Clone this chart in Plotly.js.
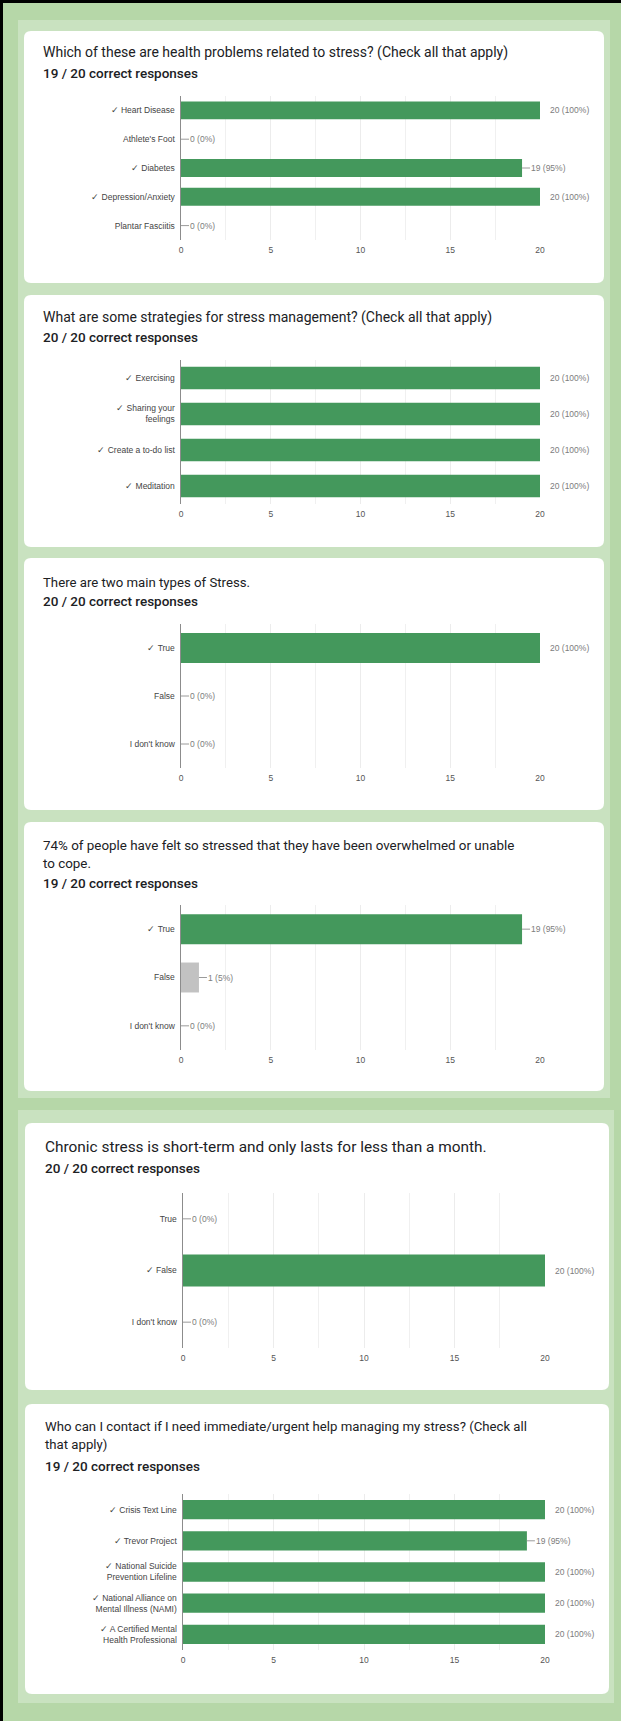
<!DOCTYPE html>
<html>
<head>
<meta charset="utf-8">
<script src="https://cdn.plot.ly/plotly-3.0.1.min.js"></script>
<style>
  html, body { margin: 0; padding: 0; background: #b6d7a8; }
  #chart { width: 621px; height: 1721px; }
</style>
</head>
<body>
<div id="chart"></div>
<script>
// ---------------- DATA ----------------
const q1Title = ["Which of these are health problems related to stress? (Check all that apply)"];
const q1Score = "19 / 20 correct responses";
const q1Cats = ["✓ Heart Disease", "Athlete's Foot", "✓ Diabetes", "✓ Depression/Anxiety", "Plantar Fasciitis"];
const q1Vals = [20, 0, 19, 20, 0];
const q1Pct = [100, 0, 95, 100, 0];
const q1Correct = [true, false, true, true, false];

const q2Title = ["What are some strategies for stress management? (Check all that apply)"];
const q2Score = "20 / 20 correct responses";
const q2Cats = ["✓ Exercising", "✓ Sharing your<br>feelings", "✓ Create a to-do list", "✓ Meditation"];
const q2Vals = [20, 20, 20, 20];
const q2Pct = [100, 100, 100, 100];
const q2Correct = [true, true, true, true];

const q3Title = ["There are two main types of Stress."];
const q3Score = "20 / 20 correct responses";
const q3Cats = ["✓ True", "False", "I don't know"];
const q3Vals = [20, 0, 0];
const q3Pct = [100, 0, 0];
const q3Correct = [true, false, false];

const q4Title = ["74% of people have felt so stressed that they have been overwhelmed or unable", "to cope."];
const q4Score = "19 / 20 correct responses";
const q4Cats = ["✓ True", "False", "I don't know"];
const q4Vals = [19, 1, 0];
const q4Pct = [95, 5, 0];
const q4Correct = [true, false, false];

const q5Title = ["Chronic stress is short-term and only lasts for less than a month."];
const q5Score = "20 / 20 correct responses";
const q5Cats = ["True", "✓ False", "I don't know"];
const q5Vals = [0, 20, 0];
const q5Pct = [0, 100, 0];
const q5Correct = [false, true, false];

const q6Title = ["Who can I contact if I need immediate/urgent help managing my stress? (Check all", "that apply)"];
const q6Score = "19 / 20 correct responses";
const q6Cats = ["✓ Crisis Text Line", "✓ Trevor Project", "✓ National Suicide<br>Prevention Lifeline",
                "✓ National Alliance on<br>Mental Illness (NAMI)", "✓ A Certified Mental<br>Health Professional"];
const q6Vals = [20, 19, 20, 20, 20];
const q6Pct = [100, 95, 100, 100, 100];
const q6Correct = [true, true, true, true, true];

const respondents = 20;
const xTicks = [0, 5, 10, 15, 20];

// ---------------- LAYOUT GEOMETRY (pixels) ----------------
const W = 621, H = 1721;
const px = p => p / W;
const py = p => 1 - p / H;

const questions = [
  {title: q1Title, score: q1Score, cats: q1Cats, vals: q1Vals, pct: q1Pct, correct: q1Correct},
  {title: q2Title, score: q2Score, cats: q2Cats, vals: q2Vals, pct: q2Pct, correct: q2Correct},
  {title: q3Title, score: q3Score, cats: q3Cats, vals: q3Vals, pct: q3Pct, correct: q3Correct},
  {title: q4Title, score: q4Score, cats: q4Cats, vals: q4Vals, pct: q4Pct, correct: q4Correct},
  {title: q5Title, score: q5Score, cats: q5Cats, vals: q5Vals, pct: q5Pct, correct: q5Correct},
  {title: q6Title, score: q6Score, cats: q6Cats, vals: q6Vals, pct: q6Pct, correct: q6Correct}
];

// card boxes, plot areas, text line centres, title font size
const geo = [
  {card: [24, 604, 31, 283],    plot: [181, 540, 96, 240],    textX: 41, lines: [53],         scoreY: 73,   tsize: 14},
  {card: [24, 604, 295, 547],   plot: [181, 540, 360, 504],   textX: 41, lines: [317],        scoreY: 337,  tsize: 14},
  {card: [24, 604, 558, 810],   plot: [181, 540, 624, 768],   textX: 41, lines: [582],        scoreY: 601,  tsize: 13.2},
  {card: [24, 604, 822, 1091],  plot: [181, 540, 905, 1050],  textX: 41, lines: [845, 863],   scoreY: 883,  tsize: 13.4},
  {card: [25, 609, 1123, 1390], plot: [183, 545, 1193, 1348], textX: 43, lines: [1147],       scoreY: 1168, tsize: 15.4},
  {card: [25, 609, 1404, 1694], plot: [183, 545, 1494, 1650], textX: 43, lines: [1426, 1444], scoreY: 1466, tsize: 13.2}
];

const GREEN = '#44985c';
const GREY_BAR = '#c2c2c2';
const OUTER = '#b6d7a8';
const PANEL = '#c9e2c0';

function roundRect(x0p, x1p, topP, botP, r) {
  const x0 = px(x0p), x1 = px(x1p), yt = py(topP), yb = py(botP);
  const rx = r / W, ry = r / H;
  return `M ${x0 + rx},${yt} L ${x1 - rx},${yt} Q ${x1},${yt} ${x1},${yt - ry} ` +
         `L ${x1},${yb + ry} Q ${x1},${yb} ${x1 - rx},${yb} L ${x0 + rx},${yb} ` +
         `Q ${x0},${yb} ${x0},${yb + ry} L ${x0},${yt - ry} Q ${x0},${yt} ${x0 + rx},${yt} Z`;
}

const shapes = [
  {type: 'rect', xref: 'paper', yref: 'paper', x0: px(18), x1: px(610), y0: py(1098), y1: py(20),
   fillcolor: PANEL, line: {width: 0}, layer: 'below'},
  {type: 'rect', xref: 'paper', yref: 'paper', x0: px(18), x1: px(614), y0: py(1703), y1: py(1110),
   fillcolor: PANEL, line: {width: 0}, layer: 'below'},
  {type: 'rect', xref: 'paper', yref: 'paper', x0: 0, x1: 1, y0: py(3), y1: 1,
   fillcolor: '#000', line: {width: 0}, layer: 'below'},
  {type: 'rect', xref: 'paper', yref: 'paper', x0: 0, x1: px(3), y0: 0, y1: 1,
   fillcolor: '#000', line: {width: 0}, layer: 'below'}
];

const annotations = [];
const data = [];
const layout = {
  width: W, height: H,
  margin: {l: 0, r: 0, t: 0, b: 0, pad: 0},
  paper_bgcolor: OUTER,
  plot_bgcolor: 'rgba(0,0,0,0)',
  showlegend: false,
  bargap: 0.38,
  shapes: shapes,
  annotations: annotations,
  font: {family: 'Liberation Sans, Arial, sans-serif', size: 8.5, color: '#444'}
};

const VALUE_FONT = {family: 'Liberation Sans, Arial, sans-serif', size: 8.5, color: '#7d7d7d'};
const AXIS_FONT = {family: 'Liberation Sans, Arial, sans-serif', size: 8.5, color: '#555'};
const CAT_FONT = {family: 'Liberation Sans, Arial, sans-serif', size: 8.5, color: '#444'};

questions.forEach((q, k) => {
  const g = geo[k];
  const n = k + 1;
  const xa = 'x' + (n === 1 ? '' : n);
  const ya = 'y' + (n === 1 ? '' : n);
  const xaKey = 'xaxis' + (n === 1 ? '' : n);
  const yaKey = 'yaxis' + (n === 1 ? '' : n);

  shapes.push({type: 'path', xref: 'paper', yref: 'paper',
    path: roundRect(g.card[0], g.card[1], g.card[2], g.card[3], 7),
    fillcolor: '#ffffff', line: {width: 0}, layer: 'below'});

  q.title.forEach((t, i) => {
    annotations.push({xref: 'paper', yref: 'paper', x: px(g.textX), y: py(g.lines[i]),
      xanchor: 'left', yanchor: 'middle', showarrow: false, text: t,
      font: {family: 'Roboto, sans-serif', size: g.tsize, color: '#202124'}});
  });
  annotations.push({xref: 'paper', yref: 'paper', x: px(g.textX), y: py(g.scoreY),
    xanchor: 'left', yanchor: 'middle', showarrow: false, text: q.score,
    font: {family: 'Roboto, sans-serif', size: 13.5, color: '#202124', weight: 500}});

  data.push({
    type: 'bar', orientation: 'h',
    x: q.vals, y: q.cats,
    xaxis: xa, yaxis: ya,
    marker: {color: q.correct.map(c => c ? GREEN : GREY_BAR), line: {width: 0}},
    hoverinfo: 'x+y'
  });

  q.vals.forEach((v, i) => {
    const txt = v + ' (' + q.pct[i] + '%)';
    if (v === respondents) {
      annotations.push({xref: xa, yref: ya, x: v, y: q.cats[i], text: txt,
        showarrow: false, xanchor: 'left', yanchor: 'middle', xshift: 8, font: VALUE_FONT});
    } else {
      annotations.push({xref: xa, yref: ya, x: v, y: q.cats[i], text: txt,
        showarrow: true, arrowhead: 0, arrowwidth: 1, arrowcolor: '#9a9a9a',
        ax: 8, ay: 0, xanchor: 'left', yanchor: 'middle', standoff: 0, startstandoff: 0,
        borderpad: 0, font: VALUE_FONT});
    }
  });

  layout[xaKey] = {
    domain: [px(g.plot[0]), px(g.plot[1])],
    anchor: ya,
    range: [0, respondents],
    tickvals: xTicks,
    ticktext: xTicks.map(String),
    ticks: '',
    ticklabelstandoff: 3,
    showgrid: true, gridcolor: '#ececec', gridwidth: 1,
    minor: {dtick: 2.5, tick0: 0, showgrid: true, gridcolor: '#f0f0f0', gridwidth: 1},
    zeroline: false, showline: false,
    tickfont: AXIS_FONT,
    fixedrange: true
  };
  layout[yaKey] = {
    domain: [py(g.plot[3]), py(g.plot[2])],
    anchor: xa,
    type: 'category',
    categoryorder: 'array', categoryarray: q.cats,
    autorange: 'reversed',
    showline: true, linecolor: '#8c8c8c', linewidth: 1.5,
    showgrid: false, zeroline: false, ticks: '',
    ticklabelstandoff: 3,
    tickfont: CAT_FONT,
    fixedrange: true
  };
});

Plotly.newPlot('chart', data, layout, {staticPlot: true, displayModeBar: false});
</script>
</body>
</html>
